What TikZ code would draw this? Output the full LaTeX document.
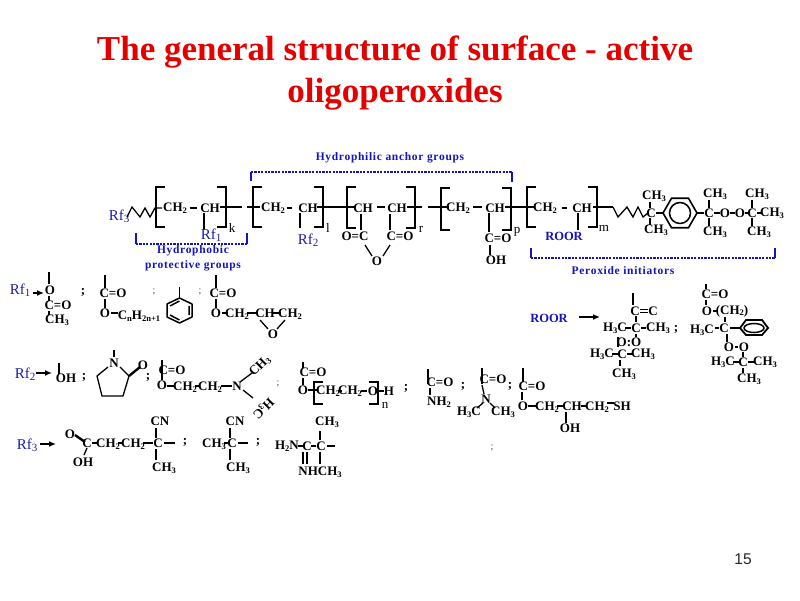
\documentclass[tikz,border=0pt]{standalone}
\usepackage{fontspec}
\setmainfont{Liberation Serif}
\newfontfamily\sansf{Liberation Sans}
\newfontfamily\spaced[LetterSpace=6]{Liberation Serif}
\usetikzlibrary{arrows.meta,shapes.geometric}
\definecolor{anchorblue}{RGB}{20,20,190}
\definecolor{rfblue}{RGB}{30,30,170}
\newcommand\sbs[1]{\raisebox{-.3ex}{\fontsize{8.5}{9}\selectfont #1}}
\newcommand\rsb[1]{\raisebox{-.35ex}{\fontsize{11}{12}\selectfont #1}}
\newcommand\T[3]{\node[chem] at (#1,#2) {#3};}
\newcommand\Ts[3]{\node[chemthin] at (#1,#2) {#3};}
\newcommand\B[4]{\draw[bond] (#1,#2) -- (#3,#4);}
\newcommand\BR[6]{\draw[brack] (#1+9,#2) -- (#1,#2) -- (#1,#3) -- (#1+9,#3);
  \draw[brack] (#4-9,#5) -- (#4,#5) -- (#4,#6) -- (#4-9,#6);}
\newcommand\Semi[2]{\node[faint] at (#1,#2) {;};}
\tikzset{
 chem/.style={inner sep=0pt,font=\fontsize{13}{14}\selectfont\bfseries,text=black},
 chemthin/.style={inner sep=0pt,font=\fontsize{13}{14}\selectfont,text=black},
 faint/.style={inner sep=0pt,font=\fontsize{10}{11}\selectfont,text=black!70},
 semi/.style={inner sep=0pt,font=\fontsize{13}{14}\selectfont\bfseries,text=black},
 bond/.style={line width=1.3pt,black},
 brack/.style={line width=1.6pt,black},
 rf/.style={inner sep=0pt,font=\fontsize{15}{16}\selectfont,text=rfblue},
 lab/.style={inner sep=0pt,align=center,font=\fontsize{11.5}{15}\selectfont\bfseries\spaced,text=anchorblue},
 roor/.style={inner sep=0pt,font=\fontsize{12.5}{13}\selectfont\bfseries,text=anchorblue},
 brk/.style={line width=1.2pt,anchorblue,dash pattern=on 2.2pt off 1.2pt},
 brkend/.style={line width=1.5pt,anchorblue},
 arr/.style={line width=2pt,black,-{Latex[length=7pt,width=6pt]}},
 title/.style={inner sep=0pt,font=\fontsize{35}{37}\selectfont\bfseries,text=red!90!black},
}
\begin{document}
\begin{tikzpicture}[x=1pt,y=-1pt]
\useasboundingbox (0,0) rectangle (800,600);
\fill[white] (0,0) rectangle (800,600);
\node[title] (t1) at (395,52) {The general structure of surface - active};
\node[title] (t2) at (395,94) {oligoperoxides};
\node[inner sep=0pt,font=\fontsize{15.5}{16}\selectfont\sansf,text=black!85] (pg) at (743,559) {15};
% labels
\node[lab] (hydrophilic) at (390,158) {Hydrophilic anchor groups};
\node[lab] (hydrophobic) at (193,258) {Hydrophobic\\protective groups};
\node[lab] (peroxide) at (623,271) {Peroxide initiators};
\draw[brk] (251,172) -- (512,172);
\draw[brkend] (251,172) -- (251,181);
\draw[brkend] (512,172) -- (512,182);
\draw[brk] (136,244) -- (247,244);
\draw[brkend] (136,233) -- (136,244);
\draw[brkend] (247,233) -- (247,244);
\draw[brk] (531,258) -- (775,258);
\draw[brkend] (531,248) -- (531,258);
\draw[brkend] (775,248) -- (775,258);
% main chain
\node[rf] at (119,216) {Rf\rsb{3}};
\draw[bond] (127,217)--(132,207)--(140,217)--(145,208)--(150,217)--(155,208)--(162,208);
\BR{156}{187}{227}{226}{187}{227}
\T{175}{208}{CH\sbs{2}} \B{190}{208}{197}{208} \T{210}{208}{CH}
\B{220}{207}{242}{207} \B{204}{213}{204}{230}
\node[rf] at (211,235) {Rf\rsb{1}};
\Ts{232}{228}{k}
\B{247}{207}{260}{207}
\BR{253}{187}{227}{323}{187}{227}
\T{273}{208}{CH\sbs{2}} \B{287}{208}{292}{208} \T{308}{208}{CH}
\B{300}{213}{300}{228}
\node[rf] at (308,240) {Rf\rsb{2}};
\Ts{328}{228}{l}
\B{317}{207}{355}{207}
\BR{347}{187}{228}{415}{187}{228}
\T{363}{208}{CH} \B{377}{207}{385}{207} \T{397}{208}{CH}
\B{407}{207}{422}{207} \B{428}{207}{449}{207}
\Ts{421}{229}{r}
\B{361}{214}{361}{230} \B{390}{214}{390}{230}
\T{355}{236}{O=C} \T{400}{236}{C=O} \T{377}{261}{O}
\B{365}{245}{372}{256} \B{390}{245}{383}{256}
\BR{441}{188}{230}{511}{188}{230}
\T{458}{208}{CH\sbs{2}} \B{473}{207}{482}{207} \T{495}{208}{CH}
\B{505}{207}{535}{207} \B{489}{213}{489}{232}
\T{498}{238}{C=O} \B{490}{245}{490}{255} \T{496}{260}{OH}
\Ts{517}{232}{p}
\BR{527}{187}{227}{597}{187}{227}
\T{545}{208}{CH\sbs{2}} \B{562}{208}{567}{208} \T{582}{208}{CH}
\B{593}{207}{613}{207} \B{578}{213}{578}{230}
\node[roor] at (564,236) {ROOR};
\Ts{604}{228}{m}
\draw[bond] (613,207)--(618,217)--(627,207)--(633,217)--(638,207)--(643,217)--(648,213);
\T{651}{213}{C} \T{654}{196}{CH\sbs{3}} \T{656}{230}{CH\sbs{3}}
\B{650}{202}{650}{208} \B{650}{218}{650}{225}
\B{656}{213}{663}{213}
\node[regular polygon,regular polygon sides=6,minimum size=34pt,inner sep=0pt,draw,line width=1.6pt] (ring) at (680,213) {};
\draw[line width=1.5pt] (ring.center) circle (10.5pt);
\B{697}{213}{704}{213}
\T{709}{213}{C} \T{715}{194}{CH\sbs{3}} \T{715}{232}{CH\sbs{3}}
\B{709}{200}{709}{208} \B{709}{218}{709}{226}
\B{714}{213}{720}{213} \T{725}{213}{O} \B{730}{213}{735}{213} \T{740}{213}{O}
\B{745}{213}{748}{213} \T{752}{213}{C} \B{757}{213}{761}{213}
\T{772}{213}{CH\sbs{3}} \T{757}{194}{CH\sbs{3}} \T{759}{232}{CH\sbs{3}}
\B{752}{200}{752}{208} \B{752}{218}{752}{226}
% Rf1 row
\node[rf] (rf1) at (20,290) {Rf\rsb{1}};
\T{50}{290}{O}
\coordinate (rf1end) at (44,293);
\draw[arr] (33,293) -- (rf1end);
\B{49}{272}{49}{284} \B{49}{296}{49}{301}
\T{58}{305}{C=O} \B{49}{311}{49}{315} \T{57}{320}{CH\sbs{3}}
\node[semi] at (83,292) {;};
\B{105}{275}{105}{288} \T{113}{293}{C=O} \B{105}{299}{105}{308}
\T{105}{313}{O} \B{111}{313}{118}{313} \T{139}{316}{C\sbs{n}H\sbs{2n+1}}
\Semi{154}{292}
\draw[line width=1.5pt,line join=round] (179.5,298)--(192,304)--(192,317)--(179.5,323)--(167,317)--(167,304)--cycle;
\draw[line width=1.5pt] (170,306)--(179.5,301) (189,306)--(189,315) (170,315)--(179.5,320);
\B{179.5}{287}{179.5}{298}
\Semi{200}{292}
\B{216}{275}{216}{288} \T{223}{293}{C=O} \B{216}{299}{216}{308}
\T{216}{313}{O} \B{222}{313}{228}{313} \T{237}{314}{CH\sbs{2}} \B{247}{313}{257}{313}
\T{265}{313}{CH} \B{273}{313}{281}{313} \T{290}{314}{CH\sbs{2}}
\T{273}{334}{O} \B{260}{320}{268}{329} \B{285}{320}{277}{329}
% Rf2 row
\node[rf] (rf2) at (25,374) {Rf\rsb{2}};
\coordinate (rf2end) at (52,373);
\draw[arr] (36,373) -- (rf2end);
\B{59}{363}{59}{374} \T{66}{378}{OH}
\node[semi] at (84,377) {;};
\T{114}{363}{N} \B{114}{350}{114}{357}
\draw[bond,line join=round] (108,367)--(97,376)--(102,396)--(123,396)--(129,376)--(120,367);
\draw[line width=2.4pt] (129,376)--(140,367);
\T{143}{365}{O}
\node[semi] at (148,377) {;};
\B{162}{360}{162}{380} \T{172}{370}{C=O}
\T{162}{385}{O} \B{167}{386}{175}{386} \T{185}{387}{CH\sbs{2}} \B{195}{386}{200}{386} \T{210}{387}{CH\sbs{2}}
\B{221}{386}{232}{386} \T{237}{386}{N}
\B{240}{382}{252}{373} \B{243}{390}{253}{398}
\node[chem,rotate=45] at (260,366) {CH\sbs{3}};
\node[chem,rotate=225] at (263,408) {H\sbs{3}C};
\Semi{278}{384}
\B{303}{362}{303}{368} \T{313}{372}{C=O} \B{303}{378}{303}{385}
\T{303}{390}{O} \B{308}{390}{318}{390}
\BR{314}{382}{404}{378}{382}{404}
\T{328}{391}{CH\sbs{2}} \B{338}{391}{342}{391} \T{350}{391}{CH\sbs{2}}
\B{361}{391}{367}{391} \T{373}{391}{O} \B{379}{391}{384}{391} \T{389}{391}{H}
\Ts{385}{405}{n}
\node[semi] at (406,388) {;};
\B{428}{369}{428}{384} \T{440}{382}{C=O} \B{430}{388}{430}{395} \T{439}{402}{NH\sbs{2}}
\node[semi] at (463,386) {;};
\B{482}{368}{482}{384} \T{493}{379}{C=O} \node[semi] at (510,386) {;};
\B{482}{385}{484}{394} \T{486}{399}{N} \T{469}{412}{H\sbs{3}C} \T{503}{412}{CH\sbs{3}}
\B{483}{403}{477}{408} \B{490}{403}{495}{408}
\B{523}{368}{523}{382} \T{532}{386}{C=O} \B{522}{392}{522}{400}
\T{523}{406}{O} \B{528}{406}{537}{406} \T{547}{407}{CH\sbs{2}} \B{557}{406}{564}{406}
\T{572}{406}{CH} \B{581}{406}{587}{406} \T{597}{407}{CH\sbs{2}} \B{607}{403}{614}{403}
\T{622}{406}{SH} \B{566}{412}{566}{423} \T{570}{428}{OH}
% Rf3 row
\node[rf] (rf3) at (27,445) {Rf\rsb{3}};
\coordinate (rf3end) at (56,444);
\draw[arr] (40,444) -- (rf3end);
\T{70}{434}{O} \draw[line width=2.4pt] (75,435)--(85,442);
\T{87}{443}{C} \B{92}{443}{98}{443} \T{108}{444}{CH\sbs{2}} \B{118}{443}{123}{443}
\T{133}{444}{CH\sbs{2}} \B{143}{443}{153}{443} \T{158}{443}{C} \B{164}{443}{175}{443}
\T{83}{462}{OH} \B{87}{448}{84}{455}
\T{160}{421}{CN} \B{156}{428}{156}{438} \B{156}{449}{156}{460} \T{164}{468}{CH\sbs{3}}
\node[semi] at (185,442) {;};
\T{214}{444}{CH\sbs{3}} \B{224}{443}{228}{443} \T{232}{443}{C} \B{238}{443}{248}{443}
\T{235}{421}{CN} \B{230}{428}{230}{438} \B{230}{449}{230}{460} \T{238}{468}{CH\sbs{3}}
\node[semi] at (258,442) {;};
\T{287}{446}{H\sbs{2}N} \B{298}{446}{303}{446} \T{307}{446}{C} \B{311}{446}{316}{446} \T{321}{446}{C} \B{327}{446}{335}{446}
\T{327}{422}{CH\sbs{3}} \B{320}{431}{320}{440} \B{320}{452}{320}{464}
\B{303}{452}{303}{464} \B{307}{452}{307}{464}
\T{320}{472}{NHCH\sbs{3}}
\Semi{492}{448}
% ROOR
\node[roor] (roorl) at (549,318) {ROOR};
\coordinate (roorend) at (600,317);
\draw[arr] (579,317) -- (roorend);
\B{633}{293}{633}{305} \T{635}{311}{C} \draw[line width=1pt] (640,309.5)--(648,309.5) (640,312.5)--(648,312.5); \T{653}{311}{C}
\T{615}{328}{H\sbs{3}C} \B{625}{328}{631}{328} \T{636}{328}{C} \B{641}{328}{646}{328} \T{658}{328}{CH\sbs{3}}
\node[semi] at (676,329) {;};
\B{636}{316}{636}{322} \B{636}{334}{636}{337}
\T{629}{342}{O:O} \B{618}{337}{618}{347}
\T{602}{354}{H\sbs{3}C} \B{612}{354}{618}{354} \T{622}{354}{C} \B{627}{354}{632}{354} \T{643}{354}{CH\sbs{3}}
\B{620}{360}{620}{366} \T{624}{374}{CH\sbs{3}}
\B{706}{284}{706}{289} \T{715}{294}{C=O} \B{706}{300}{706}{305}
\T{707}{311}{O} \B{713}{311}{718}{311} \T{732}{311}{(CH\sbs{2})}
\B{725}{317}{725}{322} \T{702}{330}{H\sbs{3}C} \B{715}{328}{719}{328} \T{724}{328}{C}
\B{730}{328}{740}{328}
\draw[line width=1.8pt] (740,328)--(746,320)--(762,320)--(768,328)--(762,335)--(746,335)--cycle;
\draw[line width=1.5pt] (754,328) ellipse (10pt and 4.5pt);
\B{727}{334}{727}{342} \T{729}{347}{O} \B{735}{347}{738}{347} \T{744}{347}{O}
\B{743}{352}{743}{357}
\T{723}{362}{H\sbs{3}C} \B{733}{362}{739}{362} \T{743}{362}{C} \B{748}{362}{755}{362} \T{765}{362}{CH\sbs{3}}
\B{743}{368}{743}{373} \T{749}{379}{CH\sbs{3}}
\end{tikzpicture}
\end{document}
